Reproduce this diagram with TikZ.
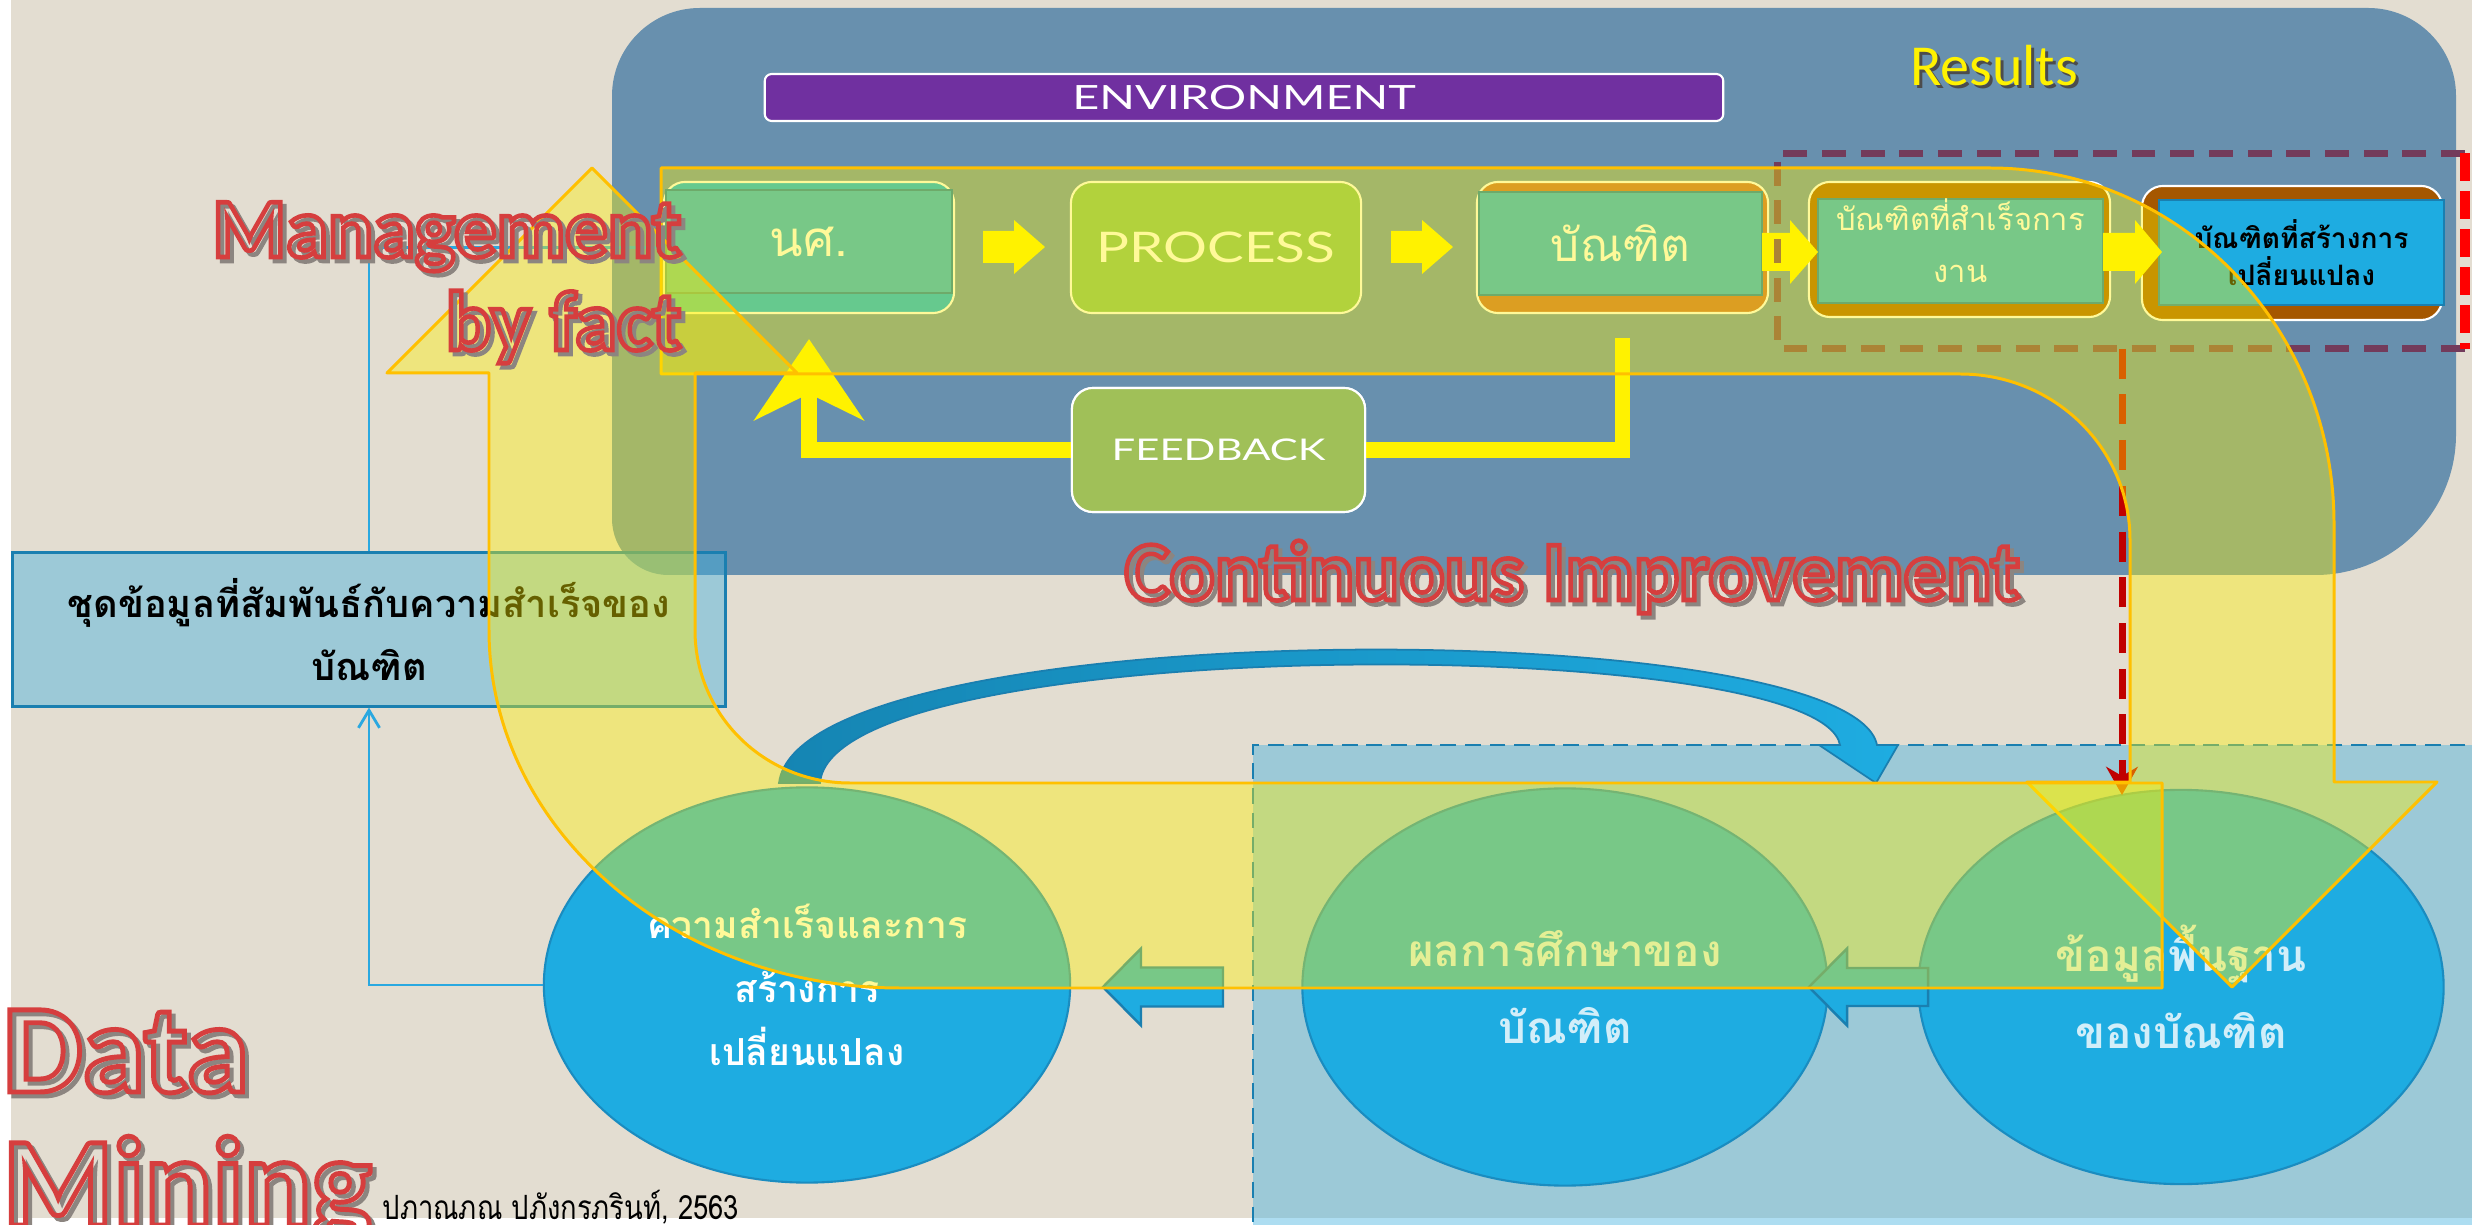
\documentclass[tikz,border=0pt]{standalone}
\usepackage{fontspec}
\usepackage{graphicx}
\setmainfont{Carlito}
\newfontfamily\thai[Script=Thai]{Loma}
\newfontfamily\gill{Lato}
\newfontfamily\cali{Carlito}
\usetikzlibrary{arrows.meta,shapes.geometric,calc}

\definecolor{beige}{HTML}{E3DDD1}
\definecolor{panel}{HTML}{6890AE}
\definecolor{skyb}{HTML}{1EACE1}
\definecolor{regionb}{HTML}{3CAFE0}
\definecolor{edgeb}{HTML}{1A7FB0}
\definecolor{ellb}{HTML}{1A8CC0}
\definecolor{envp}{HTML}{7030A0}
\definecolor{bandline}{HTML}{FFC000}
\definecolor{b1col}{HTML}{00AFED}
\definecolor{b2col}{HTML}{7FBE64}
\definecolor{b3col}{HTML}{C66739}
\definecolor{b4col}{HTML}{A55700}
\definecolor{innerb}{HTML}{0E7AB2}
\definecolor{fbcol}{HTML}{A0C058}
\definecolor{purpd}{HTML}{733B5B}
\definecolor{darkred}{HTML}{C00000}
\definecolor{wordred}{HTML}{D63E3E}
\definecolor{shade}{HTML}{8C8580}
\definecolor{connb}{HTML}{2AA8E0}
\definecolor{arcdark}{HTML}{1585B3}

% outlined (stroked, unfilled) glyphs
\newcommand\hollow[2]{\special{pdf:literal direct 1 Tr #1 w}#2\special{pdf:literal direct 0 Tr}}
% horizontally stretched text
\newcommand\xwide[2]{\scalebox{#1}[1]{#2}}
% block arrow: tail x, head base x, tip x, centre y, shaft half, head half, style
\newcommand\blkarrow[7]{\path[#7] ({#1},{#4-#5}) -- ({#2},{#4-#5}) -- ({#2},{#4-#6}) -- ({#3},{#4}) -- ({#2},{#4+#6}) -- ({#2},{#4+#5}) -- ({#1},{#4+#5}) -- cycle;}

\begin{document}
\begin{tikzpicture}[x=0.01cm,y=-0.01cm,
  yshape/.style={fill=yellow,fill opacity=0.4,draw=bandline,line width=0.85pt,line join=round},
  pbox/.style={rectangle,rounded corners=6pt,draw=white,line width=0.6pt,inner sep=0pt},
  inrect/.style={rectangle,fill=skyb,draw=innerb,line width=0.7pt,inner sep=0pt,align=center,text=white},
  conn/.style={draw=connb,line width=0.8pt},
  fbline/.style={draw=yellow,line width=4.5pt},
  ell/.style={ellipse,fill=skyb,draw=ellb,line width=0.6pt,inner sep=0pt,align=center},
  hollowtext/.style={inner sep=0pt,text=wordred},
  regiondash/.style={draw=edgeb,line width=0.8pt,dash pattern=on 4.5pt off 2.5pt},
  purpdash/.style={draw=purpd,line width=2pt,dash pattern=on 6.8pt off 4.2pt},
  rededge/.style={draw=red,line width=2.6pt,dash pattern=on 8pt off 2.8pt},
  reddarr/.style={draw=darkred,line width=2pt,dash pattern=on 8.5pt off 4.5pt,-{Stealth[length=8pt,width=9pt]}},
  bluearr/.style={fill=skyb,draw=edgeb,line width=0.7pt,line join=miter},
  envbox/.style={rectangle,rounded corners=2pt,fill=envp,draw=white,line width=0.6pt,inner sep=0pt,text=white},
  dbox/.style={rectangle,fill=regionb,fill opacity=0.42,text opacity=1,draw=edgeb,draw opacity=1,line width=0.85pt,inner sep=0pt,align=center},
]
\useasboundingbox (0,0) rectangle (2472,1225);
\fill[white] (0,0) rectangle (2472,1225);
\fill[beige] (11,0) rectangle (2472,1218);

% environment panel
\fill[panel] (612,300) [rounded corners=25pt] -- (612,8) -- (2456,8) -- (2456,300)
  [rounded corners=40pt] -- (2456,575) -- (1500,575) [rounded corners=16pt] -- (612,575) -- cycle;

% light blue data region
\fill[regionb,opacity=0.42] (1253,745) rectangle (2490,1240);
\draw[regiondash] (2490,745) -- (1253,745) -- (1253,1240);

% header bar and label
\node[envbox,minimum width=9.58cm,minimum height=0.47cm,font=\gill\fontsize{9.5}{11}\selectfont] (env) at (1244,97.5) {\xwide{1.4}{ENVIRONMENT}};
\node[text=black!70,font=\cali\fontsize{16.5}{18}\selectfont] (resS) at (1997,69) {Results};
\node[text=yellow,font=\cali\fontsize{16.5}{18}\selectfont] (res) at (1994,66) {Results};

% process row
\node[pbox,fill=b1col,minimum width=2.90cm,minimum height=1.31cm] (b1) at (809,247.5) {};
\node[inrect,minimum width=2.86cm,minimum height=1.03cm,font=\thai\fontsize{14}{16}\selectfont] (b1in) at (809,241.5) {นศ.};
\node[pbox,fill=b2col,minimum width=2.90cm,minimum height=1.31cm,text=white,font=\gill\fontsize{12}{14}\selectfont] (b2) at (1216,247.5) {\xwide{1.3}{PROCESS}};
\node[pbox,fill=b3col,minimum width=2.91cm,minimum height=1.31cm] (b3) at (1622.5,247.5) {};
\node[inrect,minimum width=2.83cm,minimum height=1.03cm,font=\thai\fontsize{13}{15}\selectfont] (b3in) at (1620.5,243.5) {บัณฑิต};
\node[pbox,fill=b4col,minimum width=3.01cm,minimum height=1.35cm] (b4) at (1959.5,249.5) {};
\node[inrect,minimum width=2.85cm,minimum height=1.04cm] (b4in) at (1960.5,251) {};
\node[inner sep=0pt,align=center,text=white,font=\thai\fontsize{8.8}{14.7}\selectfont] (b4t) at (1960.5,241) {บัณฑิตที่สำเร็จการ\\งาน};
\node[pbox,fill=b4col,minimum width=3.00cm,minimum height=1.34cm] (b5) at (2292,253) {};
\node[inrect,draw=edgeb,minimum width=2.85cm,minimum height=1.05cm,text=black,font=\thai\bfseries\fontsize{8}{10.5}\selectfont] (b5in) at (2301.5,252.5) {บัณฑิตที่สร้างการ\\เปลี่ยนแปลง};

\blkarrow{983}{1014}{1045}{247}{16}{27}{fill=yellow}
\blkarrow{1391}{1422}{1453}{247}{16}{27}{fill=yellow}
\blkarrow{1762}{1790}{1818}{252}{19}{32}{fill=yellow}
\blkarrow{2103}{2135}{2162}{252}{19}{32}{fill=yellow}

% feedback loop
\node[pbox,fill=fbcol,minimum width=2.93cm,minimum height=1.24cm] (fb) at (1218.5,450) {};
\draw[fbline] ($(b3.south)+(0,24)$) |- (fb.east);
\draw[fbline,-{Stealth[length=23pt,width=31pt,inset=7.5pt]}] (fb.west) -| ($(b1.south)+(0,25)$);
\node[pbox,fill=fbcol,minimum width=2.93cm,minimum height=1.24cm,text=white,font=\gill\fontsize{8.5}{10}\selectfont] (fbt) at (fb) {\xwide{1.4}{FEEDBACK}};

% results frame
\node[minimum width=6.86cm,minimum height=1.94cm,inner sep=0pt] (pdr) at (2121,251) {};
\draw[purpdash] (pdr.north east) -- (pdr.north west) -- (pdr.south west) -- (pdr.south east);
\draw[rededge] (pdr.north east) -- (pdr.south east);

% data set box
\node[dbox,minimum width=7.12cm,minimum height=1.53cm,font=\thai\bfseries\fontsize{10.8}{18}\selectfont] (dbox) at (369,629.5) {ชุดข้อมูลที่สัมพันธ์กับความสำเร็จของ\\บัณฑิต};

% data mining stages
\node[ell,minimum width=5.26cm,minimum height=3.95cm,text=white,font=\thai\bfseries\fontsize{10.6}{18}\selectfont] (lell) at (807,985) {ความสำเร็จและการ\\สร้างการ\\เปลี่ยนแปลง};
\node[ell,minimum width=5.25cm,minimum height=3.97cm,text=white,text opacity=0.8,font=\thai\bfseries\fontsize{12.5}{22}\selectfont] (mell) at (1565,987) {ผลการศึกษาของ\\บัณฑิต};
\node[ell,minimum width=5.25cm,minimum height=3.94cm,text=white,text opacity=0.8,font=\thai\bfseries\fontsize{12.5}{22}\selectfont] (rell) at (2181,987) {ข้อมูลพื้นฐาน\\ของบัณฑิต};
\blkarrow{1223}{1141}{1103}{987}{19.5}{38.5}{bluearr}
\blkarrow{1928}{1847}{1809}{987}{19}{38.5}{bluearr}

% results feed the base data
\coordinate (rtip) at (2122,795);
\draw[reddarr] (rtip |- pdr.south) -- (rtip);

% connectors around the data set box
\draw[conn,-{Straight Barb[length=5pt,width=6pt]}] (lell.west) -| (dbox.south);
\draw[conn] (dbox.north) |- (b1.west);

% curved arrow over the stages
\path[left color=arcdark,right color=skyb,draw=edgeb,line width=0.5pt]
  (779,783) .. controls (800,612) and (1850,612) .. (1877,745) -- (1898,745) -- (1876,783)
  -- (1819,745) -- (1840,745) .. controls (1820,632) and (832,632) .. (820,783) -- cycle;

% continuous improvement loop
\path[yshape] (661,168) -- (1990,168) .. controls (2180,168) and (2334,327) .. (2334,524)
  -- (2334,782) -- (2437,782) -- (2232,987) -- (2027,782) -- (2130,782) -- (2130,540)
  .. controls (2130,448) and (2054,374) .. (1960,374) -- (661,374) -- cycle;
\path[yshape] (387,373) -- (592,168) -- (797,373) -- (695,373) -- (695,630)
  .. controls (695,715) and (764,783) .. (850,783) -- (2162,783) -- (2162,988) -- (900,988)
  .. controls (673,988) and (489,828) .. (489,630) -- (489,373) -- cycle;

% headline words
\begin{scope}[font=\cali\bfseries\fontsize{24}{28}\selectfont]
\node[hollowtext,text=shade,anchor=base east] at (686,261) {\hollow{1.3}{Management}};
\node[hollowtext,anchor=base east] (mgmt) at (682,257) {\hollow{1.3}{Management}};
\node[hollowtext,text=shade,anchor=base east] at (686,354) {\hollow{1.3}{by fact}};
\node[hollowtext,anchor=base east] (fact) at (682,350) {\hollow{1.3}{by fact}};
\node[hollowtext,text=shade,anchor=base west] at (1128,604) {\hollow{1.3}{Continuous Improvement}};
\node[hollowtext,anchor=base west] (ci) at (1124,600) {\hollow{1.3}{Continuous Improvement}};
\end{scope}
\begin{scope}[font=\cali\bfseries\fontsize{36}{40}\selectfont]
\node[hollowtext,text=shade,anchor=base west] at (6,1096) {\hollow{1.4}{Data}};
\node[hollowtext,anchor=base west] (dm1) at (2,1092) {\hollow{1.4}{Data}};
\node[hollowtext,text=shade,anchor=base west] at (6,1229) {\hollow{1.4}{Mining}};
\node[hollowtext,anchor=base west] (dm2) at (2,1225) {\hollow{1.4}{Mining}};
\end{scope}
\node[anchor=base west,inner sep=0pt,font=\thai\fontsize{9.5}{11}\selectfont] (cite) at (382,1219) {\xwide{0.82}{ปภาณภณ ปภังกรภรินท์, 2563}};
\end{tikzpicture}
\end{document}
